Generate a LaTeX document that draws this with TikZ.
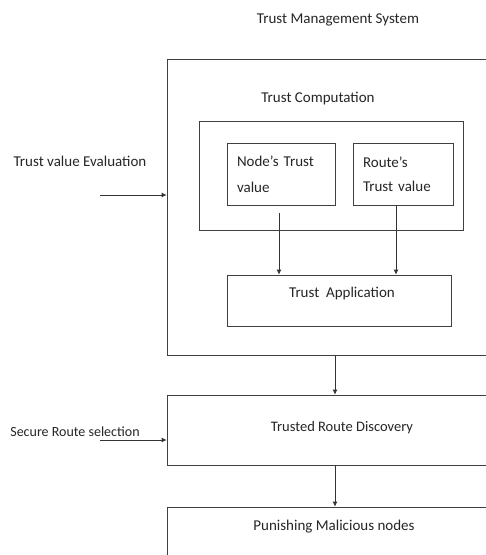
\documentclass[tikz,border=0pt]{standalone}
\usepackage{fontspec}
\setmainfont{Carlito}
\usetikzlibrary{arrows.meta}
\begin{document}
\begin{tikzpicture}[x=1pt,y=-1pt,
  line width=0.8pt,
  every node/.style={text=black!85, font=\fontsize{15}{17}\selectfont},
  box/.style={draw=black!75, line width=0.8pt, rectangle, inner sep=0pt},
  txt/.style={inner sep=0pt},
  arr/.style={draw=black!80, line width=0.8pt, -{Latex[length=5pt,width=5pt]}}
]
\useasboundingbox (0,0) rectangle (486,555);
\clip (0,0) rectangle (486,555);
\fill[white] (0,0) rectangle (486,555);
% title
\node[txt] (title) at (338,20) {Trust Management System};
% outer box
\node[box, minimum width=350pt, minimum height=296pt] (outer) at (342,207) {};
\node[txt] (tc) at (318,99) {Trust Computation};
\node[box, minimum width=264pt, minimum height=109pt] (inner) at (331,175.5) {};
\node[box, minimum width=108pt, minimum height=62pt, text width=88pt, align=left, inner xsep=10pt, font=\fontsize{15}{26}\selectfont] (nodetv) at (281,174) {Node's Trust\\value};
\node[box, minimum width=96pt, minimum height=62pt, text width=80pt, align=left, inner xsep=10pt, font=\fontsize{15}{24}\selectfont] (routetv) at (403,174) {Route's\\Trust value};
\node[box, minimum width=224pt, minimum height=51pt] (app) at (339,300.5) {};
\node[txt] (apptxt) at (342,293) {Trust\ \ Application};
% left labels
\node[txt] (tve) at (80,161) {Trust value Evaluation};
\coordinate (tvestart) at (100,195);
\node[txt, font=\fontsize{14}{16}\selectfont] (srs) at (75,432) {Secure Route selection};
\coordinate (srsstart) at (100,440);
% lower boxes
\node[box, minimum width=350pt, minimum height=70pt] (trd) at (342,430) {};
\node[txt, font=\fontsize{14.5}{16}\selectfont] (trdtxt) at (342,428) {Trusted Route Discovery};
\node[box, minimum width=350pt, minimum height=70pt] (pun) at (342,542) {};
\node[txt] (puntxt) at (334,527) {Punishing Malicious nodes};
% arrows
\draw[arr] (tvestart) -- (tvestart -| outer.west);
\draw[arr] (srsstart) -- (srsstart -| trd.west);
\draw[arr, shorten <=8pt] (nodetv.south -| 279,0) -- (app.north -| 279,0);
\draw[arr] (routetv.south -| 396,0) -- (app.north -| 396,0);
\draw[arr] (outer.south -| 335,0) -- (trd.north -| 335,0);
\draw[arr] (trd.south -| 335,0) -- (pun.north -| 335,0);
\end{tikzpicture}
\end{document}
